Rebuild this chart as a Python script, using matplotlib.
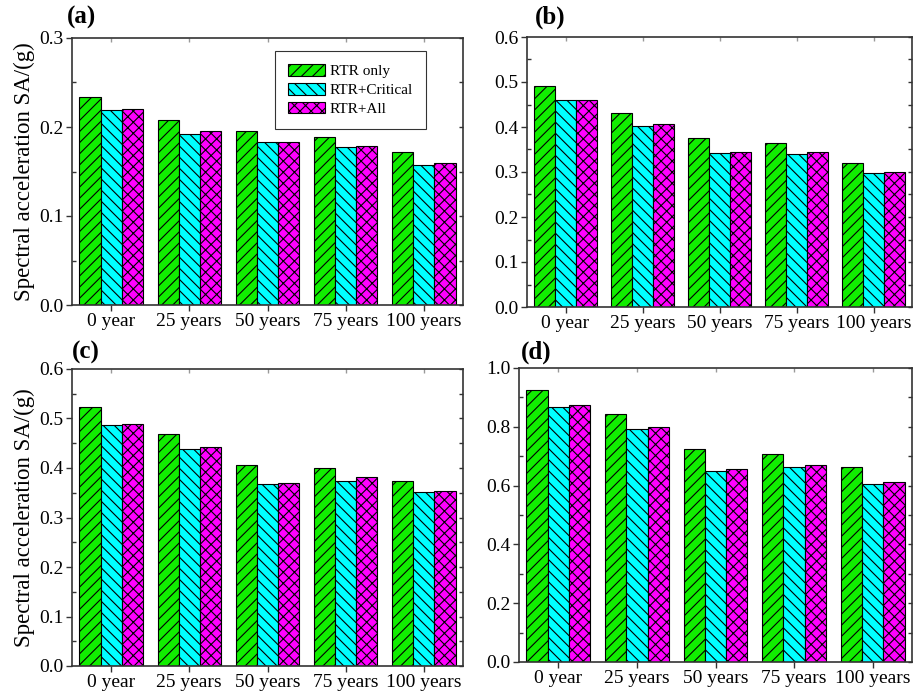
import numpy as np
import matplotlib
matplotlib.use("Agg")
import matplotlib.pyplot as plt
from matplotlib.ticker import MultipleLocator

plt.rcParams['font.family'] = ['Liberation Serif', 'DejaVu Serif']
plt.rcParams['hatch.linewidth'] = 0.8

categories = ["0 year", "25 years", "50 years", "75 years", "100 years"]
series_names = ["RTR only", "RTR+Critical", "RTR+All"]
series_colors = ["#11ee00", "#00ffff", "#ff00ff"]
series_hatches = ["///", "\\\\\\", "xxx"]

# Spectral acceleration SA (g) for each panel
sa_a_rtr = [0.234, 0.208, 0.195, 0.189, 0.172]
sa_a_crit = [0.219, 0.192, 0.183, 0.177, 0.157]
sa_a_all = [0.220, 0.195, 0.183, 0.179, 0.159]

sa_b_rtr = [0.491, 0.431, 0.376, 0.365, 0.320]
sa_b_crit = [0.460, 0.402, 0.342, 0.340, 0.298]
sa_b_all = [0.461, 0.407, 0.345, 0.345, 0.300]

sa_c_rtr = [0.524, 0.469, 0.407, 0.401, 0.374]
sa_c_crit = [0.487, 0.438, 0.367, 0.374, 0.352]
sa_c_all = [0.489, 0.442, 0.370, 0.381, 0.353]

sa_d_rtr = [0.926, 0.844, 0.723, 0.707, 0.662]
sa_d_crit = [0.866, 0.791, 0.649, 0.662, 0.607]
sa_d_all = [0.875, 0.800, 0.655, 0.671, 0.613]

panels = [
    dict(tag="(a)", data=[sa_a_rtr, sa_a_crit, sa_a_all], ymax=0.3, major=0.1,
         rect=[72/915, 1-305/694, 391/915, 267/694], ylabel=True, legend=True,
         tagpos=(67, 17)),
    dict(tag="(b)", data=[sa_b_rtr, sa_b_crit, sa_b_all], ymax=0.6, major=0.1,
         rect=[527/915, 1-307/694, 385/915, 270/694], ylabel=False, legend=False,
         tagpos=(535, 17)),
    dict(tag="(c)", data=[sa_c_rtr, sa_c_crit, sa_c_all], ymax=0.6, major=0.1,
         rect=[72/915, 1-666/694, 391/915, 297/694], ylabel=True, legend=False,
         tagpos=(72, 352)),
    dict(tag="(d)", data=[sa_d_rtr, sa_d_crit, sa_d_all], ymax=1.0, major=0.2,
         rect=[519/915, 1-662/694, 393/915, 294/694], ylabel=False, legend=False,
         tagpos=(521, 352)),
]

fig = plt.figure(figsize=(9.15, 6.94), dpi=100)
x = np.arange(len(categories))
width = 0.27
spine_color = "#333333"

for p in panels:
    ax = fig.add_axes(p["rect"])
    for i, (vals, name, col, hat) in enumerate(zip(p["data"], series_names,
                                                  series_colors, series_hatches)):
        ax.bar(x + (i - 1) * width, vals, width, color=col, edgecolor="black",
               linewidth=0.8, hatch=hat, label=name)
    ax.set_xlim(-0.5, len(categories) - 0.5)
    ax.set_ylim(0, p["ymax"])
    ax.set_xticks(x)
    ax.set_xticklabels(categories, fontsize=14)
    ax.yaxis.set_major_locator(MultipleLocator(p["major"]))
    ax.yaxis.set_minor_locator(MultipleLocator(p["major"] / 2))
    ax.yaxis.set_major_formatter(matplotlib.ticker.FormatStrFormatter("%.1f"))
    ax.tick_params(axis="y", labelsize=14)
    ax.tick_params(which="major", direction="out", length=4, width=1.0,
                   color=spine_color, pad=2)
    ax.tick_params(which="minor", direction="in", length=3, width=1.0,
                   color=spine_color)
    for s in ax.spines.values():
        s.set_color(spine_color)
        s.set_linewidth(1.2)

    # mirrored inward ticks on the right and top edges
    sec_y = ax.secondary_yaxis("right")
    sec_y.yaxis.set_major_locator(MultipleLocator(p["major"]))
    sec_y.yaxis.set_minor_locator(MultipleLocator(p["major"] / 2))
    sec_y.tick_params(which="both", direction="in", length=3, width=1.0,
                      color=spine_color, labelright=False)
    sec_y.spines["right"].set_visible(False)
    sec_x = ax.secondary_xaxis("top")
    sec_x.set_xticks(x)
    sec_x.tick_params(direction="in", length=3, width=1.0, color="#999999",
                      labeltop=False)
    sec_x.spines["top"].set_visible(False)

    if p["ylabel"]:
        ax.set_ylabel("Spectral acceleration SA/(g)", fontsize=16.5, labelpad=3)
    if p["legend"]:
        leg = ax.legend(loc="upper right", bbox_to_anchor=(0.905, 0.95),
                        fontsize=11, frameon=True, fancybox=False,
                        edgecolor="black", handlelength=2.4, handleheight=0.8,
                        borderpad=0.85, labelspacing=0.3, handletextpad=0.3,
                        borderaxespad=0)
        leg.get_frame().set_linewidth(0.8)
    fig.text(p["tagpos"][0] / 915, 1 - p["tagpos"][1] / 694, p["tag"],
             fontsize=18, fontweight="bold", ha="left", va="center")

fig.savefig("out.png", dpi=100)
